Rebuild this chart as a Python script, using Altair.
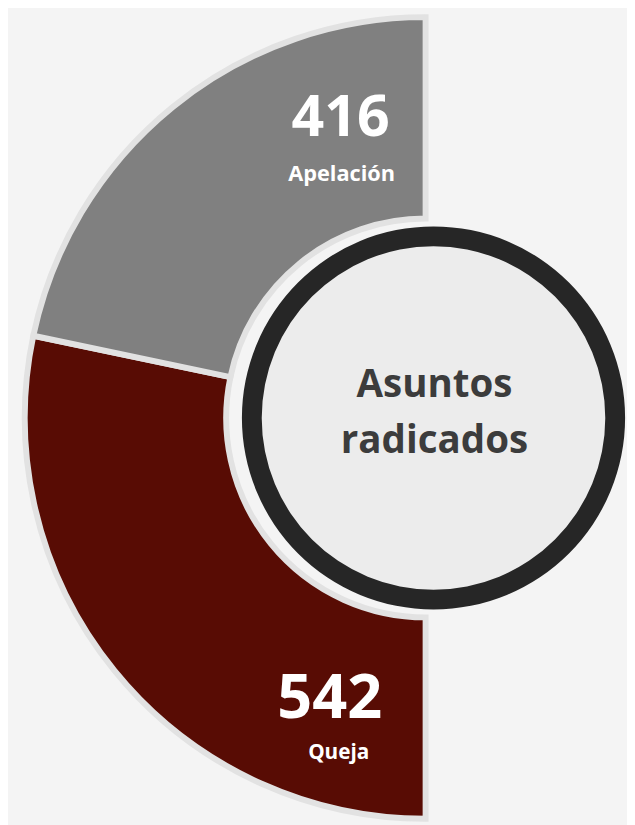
import math
import altair as alt
import pandas as pd

categories = ["Queja", "Apelación"]
values = [542, 416]
colors = ["#580c04", "#808080"]
center_lines = ["Asuntos", "radicados"]

df = pd.DataFrame({"cat": categories, "value": values, "idx": list(range(len(categories)))})
df["label"] = df["value"].astype(str)

CX, CY = 423, 410          # donut centre in chart coords
RX, RY = 431, 410          # ring centre
FONT = "Open Sans"

base = alt.Chart(df)

donut = base.mark_arc(
    innerRadius=202, outerRadius=406, stroke="#e2e2e2", strokeWidth=6
).encode(
    x=alt.value(CX), y=alt.value(CY),
    theta=alt.Theta("value:Q", stack=True,
                    scale=alt.Scale(range=[math.pi, 2 * math.pi], nice=False, zero=True)),
    order=alt.Order("idx:Q"),
    color=alt.Color("cat:N", scale=alt.Scale(domain=categories, range=colors), legend=None),
)

ring_fill = alt.Chart(pd.DataFrame({"a": [0]})).mark_arc(
    theta=0, theta2=2 * math.pi, innerRadius=0, outerRadius=176, fill="#ececec"
).encode(x=alt.value(RX), y=alt.value(RY))

ring = alt.Chart(pd.DataFrame({"a": [0]})).mark_arc(
    theta=0, theta2=2 * math.pi, innerRadius=174, outerRadius=194, fill="#262626"
).encode(x=alt.value(RX), y=alt.value(RY))

def num_text(cat, x, y, size):
    return base.transform_filter(alt.datum.cat == cat).mark_text(
        font=FONT, fontWeight="bold", fontSize=size, color="white",
        align="center", baseline="alphabetic"
    ).encode(x=alt.value(x), y=alt.value(y), text="label:N")

def cat_text(cat, x, y, size):
    return base.transform_filter(alt.datum.cat == cat).mark_text(
        font=FONT, fontWeight="bold", fontSize=size, color="white",
        align="center", baseline="alphabetic"
    ).encode(x=alt.value(x), y=alt.value(y), text="cat:N")

center_df = pd.DataFrame({"t": center_lines, "i": [0, 1]})
center1 = alt.Chart(center_df).transform_filter(alt.datum.i == 0).mark_text(
    font=FONT, fontWeight="bold", fontSize=39, color="#3c3c3c", align="center", baseline="alphabetic"
).encode(x=alt.value(432), y=alt.value(389), text="t:N")
center2 = alt.Chart(center_df).transform_filter(alt.datum.i == 1).mark_text(
    font=FONT, fontWeight="bold", fontSize=39, color="#3c3c3c", align="center", baseline="alphabetic"
).encode(x=alt.value(432), y=alt.value(445), text="t:N")

chart = alt.layer(
    donut, ring_fill, ring,
    num_text("Apelación", 337, 124, 58), cat_text("Apelación", 338, 170, 22),
    num_text("Queja", 326, 714, 62), cat_text("Queja", 335, 755, 21),
    center1, center2,
).properties(
    width=627, height=817, padding=0, background="#f4f4f4",
    autosize=alt.AutoSizeParams(type="none")
).configure_view(stroke=None)

chart.save("out.html", embed_options={"renderer": "svg", "actions": False})
